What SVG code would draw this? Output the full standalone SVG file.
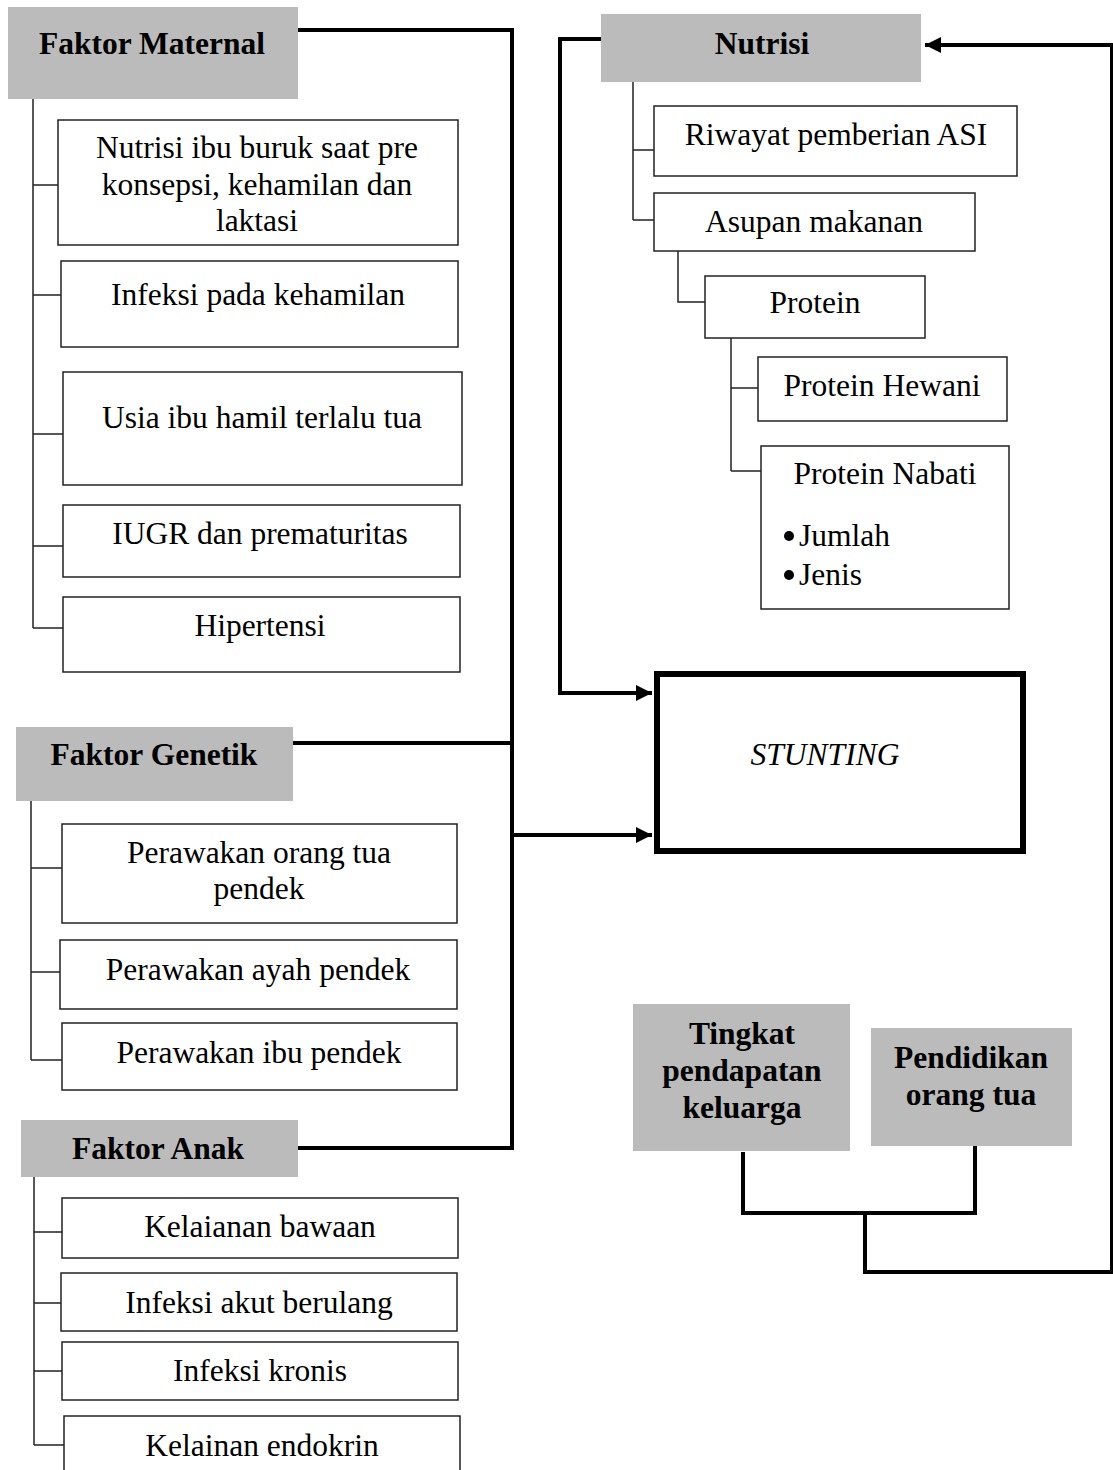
<svg xmlns="http://www.w3.org/2000/svg" width="1113" height="1470" viewBox="0 0 1113 1470">
<style>
text{font-family:"Liberation Serif","Times New Roman",serif;font-size:31.5px;fill:#000;text-anchor:middle}
.b{font-weight:bold}
.i{font-style:italic}
.hdr{fill:#bbbbbb;stroke:none}
.box{fill:#fff;stroke:#222;stroke-width:1.5}
.tree{fill:none;stroke:#222;stroke-width:1.5}
.thick{fill:none;stroke:#000;stroke-width:4}
</style>
<defs>
<marker id="ah" markerUnits="userSpaceOnUse" markerWidth="17" markerHeight="16" refX="16" refY="8" orient="auto">
<path d="M0,0 L16,8 L0,16 z" fill="#000"/>
</marker>
</defs>
<rect width="1113" height="1470" fill="#fff"/>

<g id="connectors">
<path class="thick" d="M298,30 H512 V1148 H298"/>
<path class="thick" d="M293,743 H512"/>
<path class="thick" d="M512,835 H652" marker-end="url(#ah)"/>
<path class="thick" d="M601,39 H560 V693 H652" marker-end="url(#ah)"/>
<path class="thick" d="M743,1152 V1213 H975 V1137"/>
<path class="thick" d="M865,1215 V1272 H1112 V45 H925" marker-end="url(#ah)"/>
<path class="tree" d="M33,99 V628 M33,185 H58 M33,295 H61 M33,434 H63 M33,546 H63 M33,628 H63"/>
<path class="tree" d="M31,801 V1060 M31,868 H62 M31,972 H60 M31,1060 H62"/>
<path class="tree" d="M34,1177 V1445 M34,1232 H62 M34,1303 H61 M34,1371 H62 M34,1445 H64"/>
<path class="tree" d="M633,82 V220 M633,150 H654 M633,220 H654"/>
<path class="tree" d="M678,251 V302 H705"/>
<path class="tree" d="M731,338 V471 M731,388 H758 M731,471 H761"/>
</g>

<g id="faktor-maternal">
<rect class="hdr" x="8" y="7" width="290" height="92"/>
<text class="b" x="152" y="54">Faktor Maternal</text>
</g>
<g id="nutrisi-ibu">
<rect class="box" x="58" y="120" width="400" height="125"/>
<text x="257" y="158">Nutrisi ibu buruk saat pre</text>
<text x="257" y="195">konsepsi, kehamilan dan</text>
<text x="257" y="231">laktasi</text>
</g>
<g id="infeksi-kehamilan">
<rect class="box" x="61" y="261" width="397" height="86"/>
<text x="258" y="305">Infeksi pada kehamilan</text>
</g>
<g id="usia-ibu">
<rect class="box" x="63" y="372" width="399" height="113"/>
<text x="262" y="428">Usia ibu hamil terlalu tua</text>
</g>
<g id="iugr">
<rect class="box" x="63" y="505" width="397" height="72"/>
<text x="260" y="544">IUGR dan prematuritas</text>
</g>
<g id="hipertensi">
<rect class="box" x="63" y="597" width="397" height="75"/>
<text x="260" y="636">Hipertensi</text>
</g>

<g id="faktor-genetik">
<rect class="hdr" x="16" y="727" width="277" height="74"/>
<text class="b" x="154" y="765">Faktor Genetik</text>
</g>
<g id="orang-tua-pendek">
<rect class="box" x="62" y="824" width="395" height="99"/>
<text x="259" y="863">Perawakan orang tua</text>
<text x="259" y="899">pendek</text>
</g>
<g id="ayah-pendek">
<rect class="box" x="60" y="940" width="397" height="69"/>
<text x="258" y="980">Perawakan ayah pendek</text>
</g>
<g id="ibu-pendek">
<rect class="box" x="62" y="1023" width="395" height="67"/>
<text x="259" y="1063">Perawakan ibu pendek</text>
</g>

<g id="faktor-anak">
<rect class="hdr" x="21" y="1120" width="277" height="57"/>
<text class="b" x="158" y="1159">Faktor Anak</text>
</g>
<g id="kelainan-bawaan">
<rect class="box" x="62" y="1198" width="396" height="60"/>
<text x="260" y="1237">Kelaianan bawaan</text>
</g>
<g id="infeksi-akut">
<rect class="box" x="61" y="1273" width="396" height="58"/>
<text x="259" y="1313">Infeksi akut berulang</text>
</g>
<g id="infeksi-kronis">
<rect class="box" x="62" y="1342" width="396" height="58"/>
<text x="260" y="1381">Infeksi kronis</text>
</g>
<g id="kelainan-endokrin">
<rect class="box" x="64" y="1416" width="396" height="70"/>
<text x="262" y="1456">Kelainan endokrin</text>
</g>

<g id="nutrisi">
<rect class="hdr" x="601" y="14" width="320" height="68"/>
<text class="b" x="762" y="54">Nutrisi</text>
</g>
<g id="riwayat-asi">
<rect class="box" x="654" y="106" width="363" height="70"/>
<text x="836" y="145">Riwayat pemberian ASI</text>
</g>
<g id="asupan-makanan">
<rect class="box" x="654" y="193" width="321" height="58"/>
<text x="814" y="232">Asupan makanan</text>
</g>
<g id="protein">
<rect class="box" x="705" y="276" width="220" height="62"/>
<text x="815" y="313">Protein</text>
</g>
<g id="protein-hewani">
<rect class="box" x="758" y="357" width="249" height="64"/>
<text x="882" y="396">Protein Hewani</text>
</g>
<g id="protein-nabati">
<rect class="box" x="761" y="446" width="248" height="163"/>
<text x="885" y="484">Protein Nabati</text>
<circle cx="789" cy="536" r="5"/>
<circle cx="789" cy="575" r="5"/>
<text x="799" y="546" style="text-anchor:start">Jumlah</text>
<text x="799" y="585" style="text-anchor:start">Jenis</text>
</g>

<g id="stunting">
<rect x="657" y="674" width="366" height="177" fill="#fff" stroke="#000" stroke-width="6"/>
<text class="i" x="825" y="765">STUNTING</text>
</g>

<g id="tingkat-pendapatan">
<rect class="hdr" x="633" y="1004" width="217" height="147"/>
<text class="b" x="742" y="1044">Tingkat</text>
<text class="b" x="742" y="1081">pendapatan</text>
<text class="b" x="742" y="1118">keluarga</text>
</g>
<g id="pendidikan">
<rect class="hdr" x="871" y="1028" width="201" height="118"/>
<text class="b" x="971" y="1068">Pendidikan</text>
<text class="b" x="971" y="1105">orang tua</text>
</g>
</svg>
